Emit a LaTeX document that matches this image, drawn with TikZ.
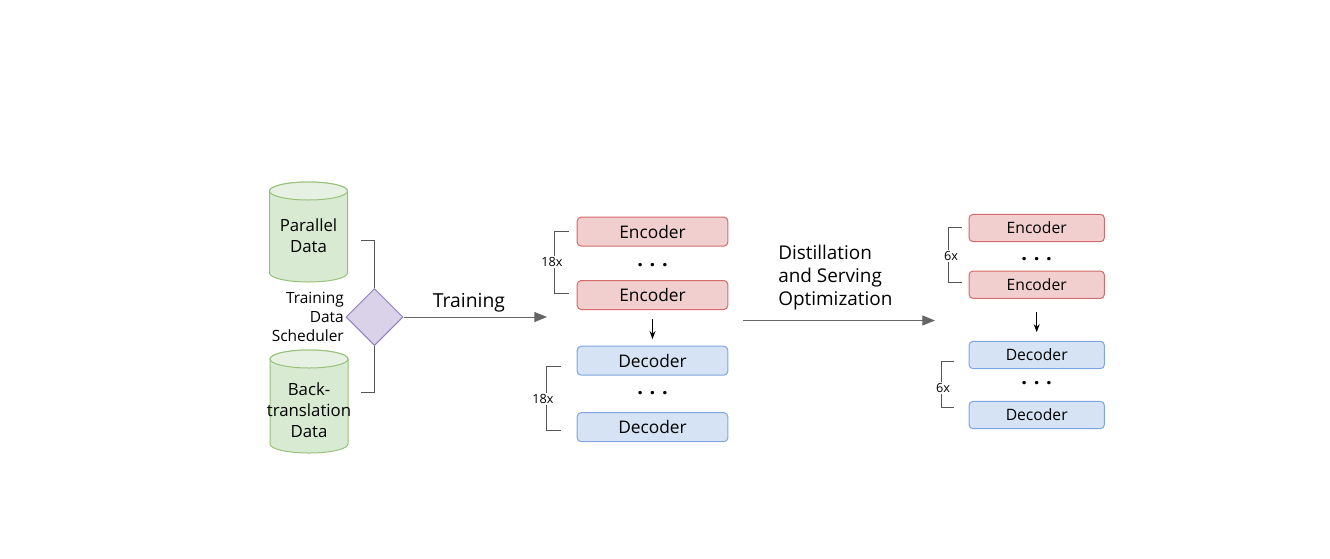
\documentclass[tikz,border=0pt]{standalone}
\usepackage{fontspec}
\setmainfont{Open Sans}
\usetikzlibrary{shapes.geometric,arrows.meta}

\begin{document}
\begin{tikzpicture}[x=0.75pt,y=-0.75pt,
  encnode/.style={rectangle,rounded corners=3pt,line width=0.75pt,draw=encline,fill=encfill,inner sep=0pt},
  decnode/.style={rectangle,rounded corners=3pt,line width=0.75pt,draw=decline,fill=decfill,inner sep=0pt},
  bigbox/.style={minimum width=113pt,minimum height=21.75pt,font=\fontsize{13}{15}\selectfont},
  smallbox/.style={minimum width=101.5pt,minimum height=20.5pt,font=\fontsize{11.75}{14}\selectfont},
  datacyl/.style={draw=dataline,fill=datafill,line width=0.75pt},
  datatext/.style={align=center,inner sep=0pt,font=\fontsize{12.6}{15.75}\selectfont},
  brk/.style={draw=brkgray,line width=0.75pt},
  cnt/.style={fill=white,inner sep=1pt,font=\fontsize{9.5}{11}\selectfont},
  dots/.style={inner sep=0pt,font=\bfseries\fontsize{15}{17}\selectfont},
  flow/.style={draw=flowgray,line width=0.75pt,-{Triangle[length=9.5pt,width=7.5pt]}}]
\definecolor{encfill}{HTML}{F2CFCF}
\definecolor{encline}{HTML}{D46A6A}
\definecolor{decfill}{HTML}{D5E3F5}
\definecolor{decline}{HTML}{7EA6E0}
\definecolor{datafill}{HTML}{D9EAD3}
\definecolor{datatop}{HTML}{E6F1E3}
\definecolor{dataline}{HTML}{97C17A}
\definecolor{schedfill}{HTML}{DAD2E8}
\definecolor{schedline}{HTML}{9080C0}
\definecolor{brkgray}{HTML}{555555}
\definecolor{flowgray}{HTML}{666666}
\useasboundingbox (0,0) rectangle (1330,558);

% data sources
\foreach \cx/\ytop/\ybot in {308.5/191/273,309/359/444}
{ \draw [datacyl] (\cx-39,\ytop) -- (\cx-39,\ybot) arc [start angle=180,end angle=360,x radius=29.25pt,y radius=6.75pt]
     -- (\cx+39,\ytop) arc [start angle=0,end angle=180,x radius=29.25pt,y radius=6.75pt] -- cycle;
  \draw [datacyl,fill=datatop] (\cx,\ytop) ellipse [x radius=29.25pt,y radius=6.75pt];}
\node [datatext] (paralleltxt) at (308.5,235.5) {Parallel\\Data};
\node [datatext] (backtranstxt) at (309,410) {Back-\\translation\\Data};

% scheduler
\node [diamond,draw=schedline,fill=schedfill,line width=0.75pt,minimum width=42.75pt,minimum height=42.75pt,inner sep=0pt] (sched) at (374.5,317) {};
\node [anchor=east,align=right,inner sep=0pt,font=\fontsize{11.6}{14.25}\selectfont] (schedtxt) at (344,317) {Training\\Data\\Scheduler};
\coordinate (pin) at (361,240);
\coordinate (bin) at (361,392);
\draw [brk] (pin) -| (sched.north);
\draw [brk] (bin) -| (sched.south);

% teacher model
\foreach \nm/\y in {encA/231.6,encB/295}
  {\node [encnode,bigbox] (\nm) at (652.5,\y) {Encoder};}
\foreach \nm/\y in {decA/360.7,decB/427.2}
  {\node [decnode,bigbox] (\nm) at (652.5,\y) {Decoder};}
\node [dots] (encdots) at (652.5,265) {.\,\,.\,\,.};
\node [dots] (decdots) at (652.5,393) {.\,\,.\,\,.};
\draw [-{Stealth[length=6pt,width=4.5pt]},line width=0.75pt,shorten <=6.75pt,shorten >=5pt] (encB.south) -- (decA.north);

% student model
\foreach \nm/\y in {encC/228,encD/284.7}
  {\node [encnode,smallbox] (\nm) at (1036.7,\y) {Encoder};}
\foreach \nm/\y in {decC/355,decD/415}
  {\node [decnode,smallbox] (\nm) at (1036.7,\y) {Decoder};}
\node [dots] (encdots2) at (1036.7,259) {.\,\,.\,\,.};
\node [dots] (decdots2) at (1036.7,383) {.\,\,.\,\,.};
\draw [-{Stealth[length=6pt,width=4.5pt]},line width=0.75pt,shorten <=10pt,shorten >=6.5pt] (encD.south) -- (decC.north);

% layer counts
\foreach \xa/\xb/\ya/\yb/\lx/\ly/\cnt in {569/554/231/293/552/262/18x,561/546/366/430/543/399/18x,
    962/948/227/282/951/256/6x,954/941/361/407/943/388/6x}
  {\draw [brk] (\xa,\ya) -- (\xb,\ya) -- (\xb,\yb) -- (\xa,\yb);
   \node [cnt] at (\lx,\ly) {\cnt};}

% training and distillation
\coordinate (trainend) at (547,317);
\draw [flow] (sched.east) -- (trainend);
\node [inner sep=0pt,font=\fontsize{14.5}{17}\selectfont] (traintxt) at (469,302.5) {Training};
\coordinate (diststart) at (743,320.5);
\coordinate (distend) at (935,320.5);
\draw [flow] (diststart) -- (distend);
\node [anchor=west,align=left,inner sep=0pt,font=\fontsize{14.2}{17.25}\selectfont] (disttxt) at (778,277.5) {Distillation\\and Serving\\Optimization};
\end{tikzpicture}
\end{document}
